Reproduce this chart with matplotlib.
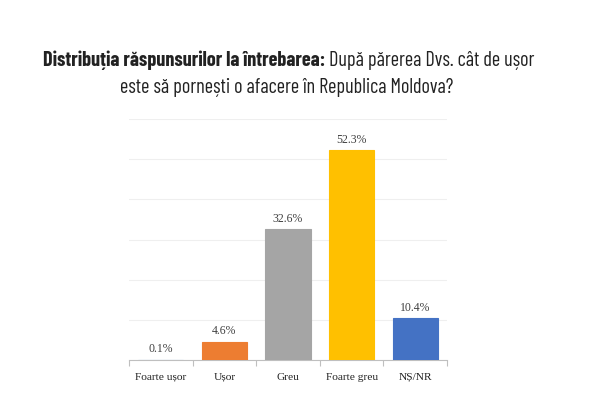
import matplotlib
matplotlib.use("Agg")
import matplotlib.pyplot as plt

# ---------------------------------------------------------------------------
# Data
# ---------------------------------------------------------------------------
categories = ["Foarte ușor", "Ușor", "Greu", "Foarte greu", "NȘ/NR"]
values = [0.1, 4.6, 32.6, 52.3, 10.4]
value_labels = ["0.1%", "4.6%", "32.6%", "52.3%", "10.4%"]
bar_colors = ["#5B9BD5", "#ED7D31", "#A5A5A5", "#FFC000", "#4472C4"]

title_bold = "Distribuția răspunsurilor la întrebarea:"
title_rest = " După părerea Dvs. cât de ușor"
title_line2 = "este să pornești o afacere în Republica Moldova?"

TITLE_FONT = ["Barlow Condensed", "Roboto Condensed", "DejaVu Sans"]
SERIF = ["Liberation Serif", "DejaVu Serif"]
TEXT_COLOR = "#222222"
TITLE_SIZE = 16
TITLE_W_PX = 495   # width of title line 1 in the reference

fig = plt.figure(figsize=(6, 4), dpi=100)
ax = fig.add_axes([0.215, 0.10, 0.53, 0.6025])

x = range(len(categories))
ax.bar(x, values, width=0.71, color=bar_colors, edgecolor=bar_colors,
       linewidth=0.8, zorder=3)
for xi, v, lab in zip(x, values, value_labels):
    ax.text(xi, v + 1.1, lab, ha="center", va="bottom", fontsize=8.5,
            family=SERIF, color="#404040")

ax.set_xlim(-0.5, len(categories) - 0.5)
ax.set_ylim(0, 60)
ax.set_yticks(range(0, 61, 10))
ax.yaxis.grid(True, color="#EFEFEF", lw=0.8, zorder=0)
ax.tick_params(axis="y", left=False, labelleft=False)

ax.set_xticks([i - 0.5 for i in range(len(categories) + 1)], minor=False)
ax.set_xticklabels([])
ax.set_xticks(list(x), minor=True)
ax.set_xticklabels(categories, minor=True, fontsize=8.2, family=SERIF,
                   color="#222222")
ax.tick_params(axis="x", which="major", length=4, color="#BFBFBF", width=0.8)
ax.tick_params(axis="x", which="minor", length=0, pad=9)

for side in ("top", "right", "left"):
    ax.spines[side].set_visible(False)
ax.spines["bottom"].set_color("#BFBFBF")
ax.spines["bottom"].set_linewidth(0.8)

# Title: bold part + regular part on line 1, centred together
t1 = fig.text(0, 0.835, title_bold, fontsize=TITLE_SIZE, fontweight="bold",
              family=TITLE_FONT, color=TEXT_COLOR, ha="left", va="baseline")
t2 = fig.text(0, 0.835, title_rest, fontsize=TITLE_SIZE, family=TITLE_FONT,
              color=TEXT_COLOR, ha="left", va="baseline")
t3 = fig.text(0.4775, 0.768, title_line2, fontsize=TITLE_SIZE,
              family=TITLE_FONT, color=TEXT_COLOR, ha="center",
              va="baseline")
r = fig.canvas.get_renderer()
w = t1.get_window_extent(r).width + t2.get_window_extent(r).width
size = min(TITLE_SIZE, TITLE_SIZE * TITLE_W_PX / w)
for t in (t1, t2, t3):
    t.set_fontsize(size)
w1 = t1.get_window_extent(r).width / fig.bbox.width
w2 = t2.get_window_extent(r).width / fig.bbox.width
x0 = 0.4808 - (w1 + w2) / 2
t1.set_x(x0)
t2.set_x(x0 + w1)

fig.savefig("out.png", dpi=100)
